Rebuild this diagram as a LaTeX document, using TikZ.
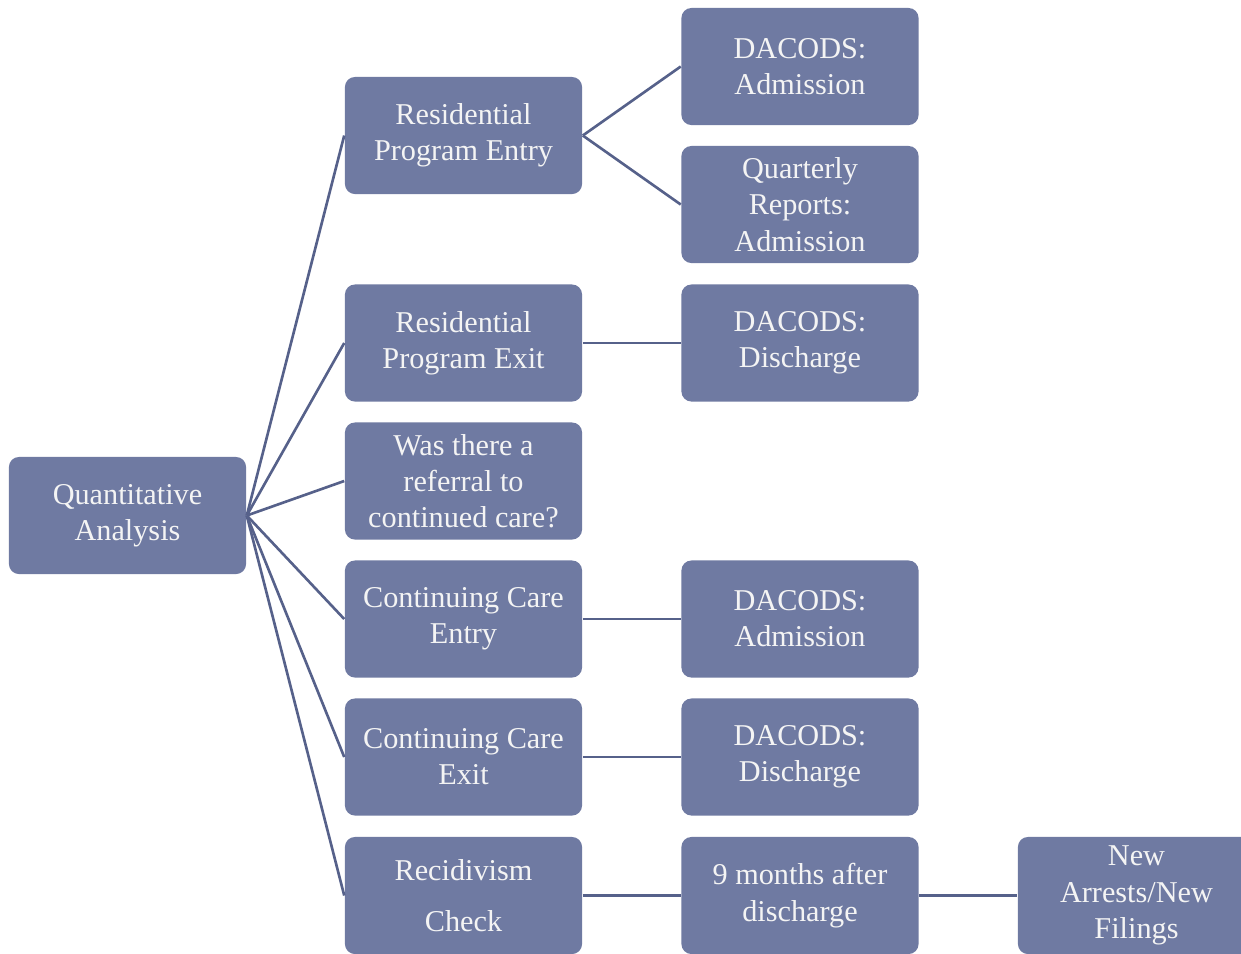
\documentclass[tikz,border=0pt]{standalone}
\usepackage{fontspec}
\setmainfont{Liberation Serif}
\definecolor{boxfill}{HTML}{6F7AA2}
\definecolor{linecol}{HTML}{56618A}
\definecolor{txt}{HTML}{F4F4F4}
\begin{document}
\begin{tikzpicture}[x=0.01cm,y=-0.01cm,
  box/.style={draw=none,fill=boxfill,rounded corners=0.1cm,minimum width=2.37cm,minimum height=1.17cm,
    text=txt,align=center,font=\fontsize{8.6}{10.3}\selectfont,inner sep=0pt},
  conn/.style={draw=linecol,line width=0.75pt}]
\useasboundingbox (0,0) rectangle (1241,953);
\clip (0,0) rectangle (1241,953);
\node[box] (qa) at (127.5,515.5) {Quantitative\\Analysis};
\node[box] (re) at (463.5,135.5) {Residential\\Program Entry};
\node[box] (rx) at (463.5,343) {Residential\\Program Exit};
\node[box] (wr) at (463.5,481) {Was there a\\referral to\\continued care?};
\node[box] (ce) at (463.5,619) {Continuing Care\\Entry};
\node[box] (cx) at (463.5,757) {Continuing Care\\Exit};
\node[box] (rc) at (463.5,895.5) {Recidivism\\[4pt]Check};
\node[box] (da1) at (800,66.5) {DACODS:\\Admission};
\node[box] (qr) at (800,204.5) {Quarterly\\Reports:\\Admission};
\node[box] (dd1) at (800,343) {DACODS:\\Discharge};
\node[box] (da2) at (800,619) {DACODS:\\Admission};
\node[box] (dd2) at (800,757) {DACODS:\\Discharge};
\node[box] (nm) at (800,895.5) {9 months after\\discharge};
\node[box] (na) at (1136.5,895.5) {New\\Arrests/New\\Filings};
\foreach \t in {re,rx,wr,ce,cx,rc}{\draw[conn] (qa.east) -- (\t.west);}
\draw[conn] (re.east) -- (da1.west);
\draw[conn] (re.east) -- (qr.west);
\draw[conn] (rx) -- (dd1);
\draw[conn] (ce) -- (da2);
\draw[conn] (cx) -- (dd2);
\draw[conn] (rc) -- (nm);
\draw[conn] (nm) -- (na);
\end{tikzpicture}
\end{document}
